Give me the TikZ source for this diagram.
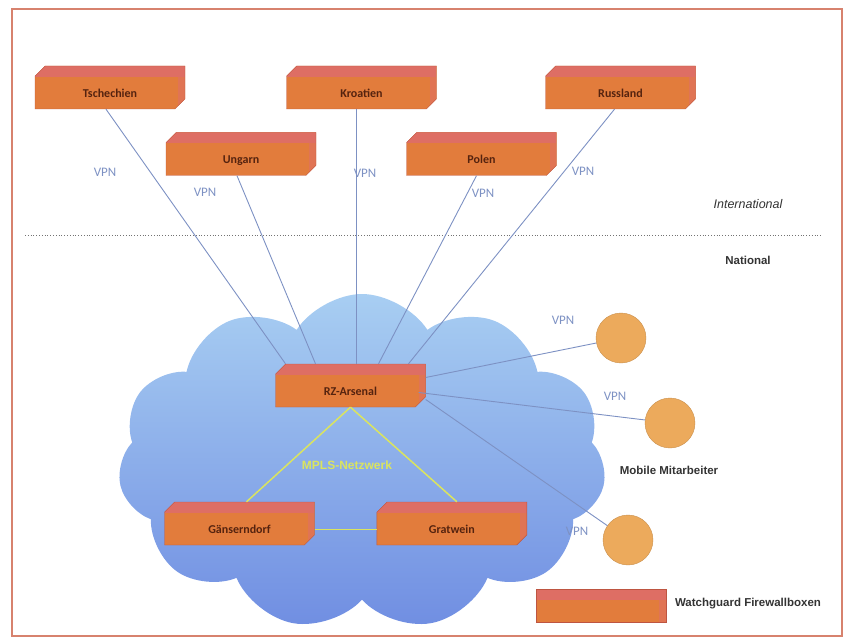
\documentclass[tikz,border=0pt]{standalone}
\usepackage{fontspec}
\setmainfont{Carlito}
\newfontfamily\arialfont{Liberation Sans}
\usetikzlibrary{shapes.misc,shapes.symbols,positioning}

\definecolor{boxfront}{RGB}{226,124,60}
\definecolor{boxtop}{RGB}{222,110,100}
\definecolor{boxedge}{RGB}{190,85,65}
\definecolor{boxtext}{RGB}{85,35,15}
\definecolor{vpnblue}{RGB}{125,145,195}
\definecolor{mplsgelb}{RGB}{218,228,95}
\definecolor{kreis}{RGB}{236,170,92}
\definecolor{rahmen}{RGB}{215,130,110}

\begin{document}
\begin{tikzpicture}[x=1pt, y=-1pt,
    fwbox/.style = {chamfered rectangle, chamfered rectangle corners={north west,south east},
        chamfered rectangle xsep=7pt, minimum width=150pt, minimum height=43pt, inner sep=0pt,
        fill=boxfront, draw=boxedge, thin, text=boxtext, font=\bfseries\fontsize{12}{14}\selectfont,
        text height=22pt, text depth=2pt,
        path picture={
            \fill[boxtop] (path picture bounding box.north west) rectangle ([yshift=-11pt]path picture bounding box.north east);
            \fill[boxtop!60!boxfront] ([xshift=-7pt,yshift=-11pt]path picture bounding box.north east) rectangle (path picture bounding box.south east);
        }},
    mobil/.style = {circle, minimum size=50pt, fill=kreis, draw=kreis!85!black, thin},
    vpnline/.style = {vpnblue, line width=0.9pt},
    mpls/.style = {mplsgelb, line width=1.5pt},
    vpnlbl/.style = {text=vpnblue, font=\fontsize{13}{15}\selectfont},
    grautext/.style = {text=black!80, font=\arialfont\bfseries\fontsize{11.5}{13}\selectfont}]

    \useasboundingbox (0,0) rectangle (846,639);
    \draw[rahmen, line width=1.5pt] (12,9) rectangle (842,636);

    % Trennlinie international / national
    \coordinate (trennL) at (25,235);
    \coordinate (trennR) at (822,235);
    \draw[black!55, dotted, line width=0.8pt] (trennL) -- (trennR);
    \node[text=black!80, font=\arialfont\itshape\fontsize{12.5}{14}\selectfont] (intl) at (748,204) {International};
    \node[grautext] (natl) at (748,260) {National};

    % Wolke
    \node[cloud, cloud puffs=11, cloud puff arc=115, aspect=1.45, minimum width=488pt, minimum height=336pt,
        top color={rgb,255:red,168;green,206;blue,242}, middle color={rgb,255:red,152;green,158;blue,232},
        bottom color={rgb,255:red,112;green,142;blue,226}, draw=none] (wolke) at (362,462) {};

    % Standorte
    \node[fwbox] (tsch) at (110,87.5) {Tschechien};
    \node[fwbox] (kroa) at (361.5,87.5) {Kroatien};
    \node[fwbox] (russ) at (620.5,87.5) {Russland};
    \node[fwbox] (ung) at (241,154) {Ungarn};
    \node[fwbox] (pol) at (481.5,154) {Polen};
    \node[fwbox] (rz) at (350.5,385.5) {RZ-Arsenal};
    \node[fwbox] (gans) at (239.5,523.5) {Gänserndorf};
    \node[fwbox] (grat) [right=62pt of gans] {Gratwein};

    % Mobile Mitarbeiter
    \node[mobil] (ma1) at (621,338) {};
    \node[mobil] (ma2) at (670,423) {};
    \node[mobil] (ma3) at (628,540) {};
    \node[grautext] (maText) at (669,470) {Mobile Mitarbeiter};

    % VPN
    \draw[vpnline] ([xshift=-4pt]tsch.south) -- ([xshift=-65pt]rz.north);
    \draw[vpnline] ([xshift=-4pt]ung.south) -- ([xshift=-35pt]rz.north);
    \draw[vpnline] ([xshift=-5pt]kroa.south) -- ([xshift=6pt]rz.north);
    \draw[vpnline] ([xshift=-5pt]pol.south) -- ([xshift=28pt]rz.north);
    \draw[vpnline] ([xshift=-6pt]russ.south) -- ([xshift=58pt]rz.north);
    \draw[vpnline] ([yshift=8pt]rz.east) -- (ma1);
    \draw[vpnline] ([xshift=-7pt,yshift=-7pt]rz.east) -- (ma2);
    \draw[vpnline] ([yshift=-14pt]rz.east) -- (ma3);
    \node[vpnlbl] (v1) at (105,172) {VPN};
    \node[vpnlbl] (v2) at (205,192) {VPN};
    \node[vpnlbl] (v3) at (365,173) {VPN};
    \node[vpnlbl] (v4) at (483,193) {VPN};
    \node[vpnlbl] (v5) at (583,171) {VPN};
    \node[vpnlbl] (v6) at (563,320) {VPN};
    \node[vpnlbl] (v7) at (615,396) {VPN};
    \node[vpnlbl] (v8) at (577,531) {VPN};

    % MPLS
    \draw[mpls] (rz.south) -- ([xshift=7pt]gans.north);
    \draw[mpls] (rz.south) -- ([xshift=5pt]grat.north);
    \draw[mpls] ([yshift=-6pt]gans.east) -- ([yshift=-6pt]grat.west);
    \node[text=mplsgelb, font=\arialfont\bfseries\fontsize{12}{14}\selectfont] (mplsText) at (347,465) {MPLS-Netzwerk};

    % Legende
    \node[fwbox, minimum width=130pt, minimum height=33pt, text height=, text depth=] (legende) at (601,605.5) {};
    \node[grautext] (legText) at (748,604) {Watchguard Firewallboxen};
\end{tikzpicture}
\end{document}
